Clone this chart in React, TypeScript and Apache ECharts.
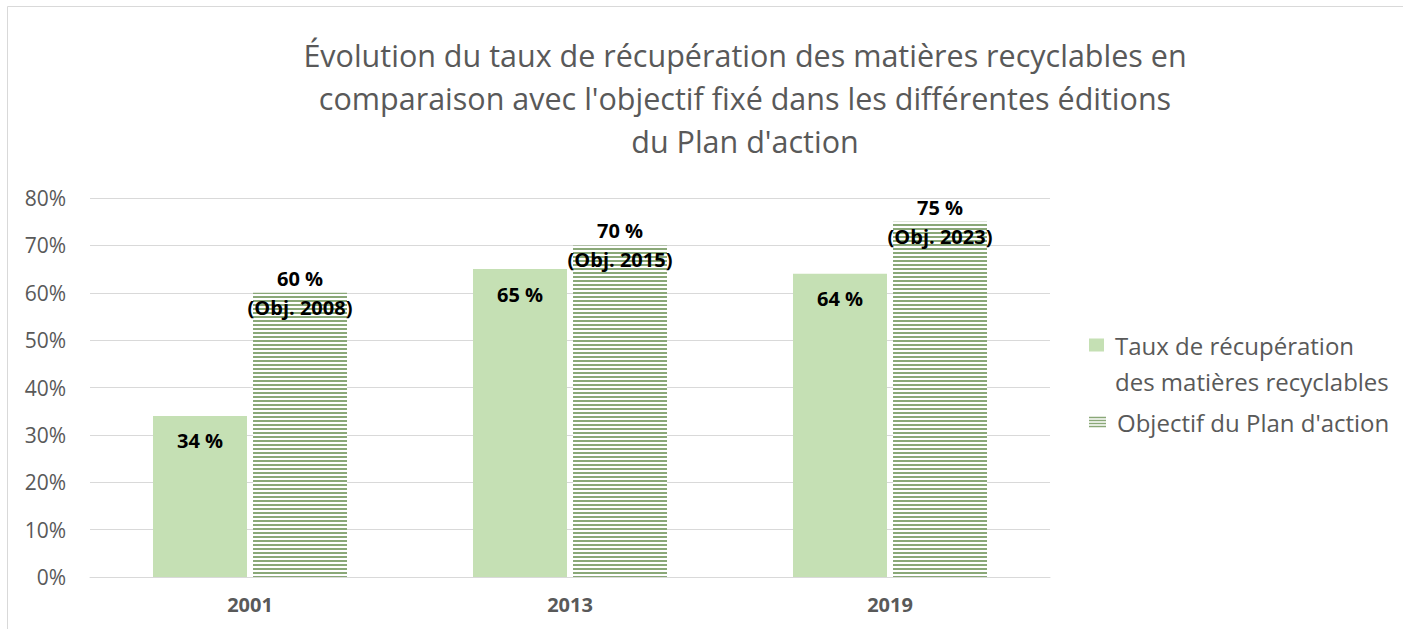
import React, { useEffect, useRef } from "react";
import * as echarts from "echarts";

const years = ["2001", "2013", "2019"];
const tauxValues = [34, 65, 64];
const objectifValues = [60, 70, 75];
const objectifYears = ["2008", "2015", "2023"];
const yTicks = [0, 10, 20, 30, 40, 50, 60, 70, 80];

const seriesNames = [
  "Taux de récupération\ndes matières recyclables",
  "Objectif du Plan d'action",
];

const FONT = "'Open Sans', 'Noto Sans', sans-serif";
const GRAY = "#595959";
const HATCH_GREEN = "#8aa878";

function makeHatch(): HTMLCanvasElement {
  const c = document.createElement("canvas");
  c.width = 4;
  c.height = 4;
  const ctx = c.getContext("2d")!;
  ctx.fillStyle = "#ffffff";
  ctx.fillRect(0, 0, 4, 4);
  ctx.fillStyle = HATCH_GREEN;
  ctx.fillRect(0, 0, 4, 2);
  return c;
}

export default function App() {
  const ref = useRef<HTMLDivElement>(null);
  useEffect(() => {
    if (!ref.current) return;
    const chart = echarts.init(ref.current, undefined, { renderer: "svg" });
    const hatch = { image: makeHatch(), repeat: "repeat" } as any;
    const legendText = {
      fontFamily: FONT,
      fontSize: 24,
      lineHeight: 36,
      color: GRAY,
      padding: [0, 0, 0, 6],
    };
    chart.setOption({
      animation: false,
      backgroundColor: "#ffffff",
      title: {
        text: "Évolution du taux de récupération des matières recyclables en\ncomparaison avec l'objectif fixé dans les différentes éditions\ndu Plan d'action",
        left: 740,
        top: 28,
        textAlign: "center",
        textStyle: {
          fontFamily: FONT,
          fontWeight: "normal",
          fontSize: 30.5,
          lineHeight: 43,
          color: GRAY,
        },
      },
      graphic: [
        {
          type: "rect",
          shape: { x: 7.5, y: 6.5, width: 1420, height: 700 },
          style: { fill: "none", stroke: "#d9d9d9", lineWidth: 1 },
          silent: true,
        },
      ],
      grid: { left: 90, right: 353, top: 198, bottom: 52, containLabel: false },
      legend: [
        {
          orient: "vertical",
          left: 1084,
          top: 322,
          itemWidth: 15,
          itemHeight: 49,
          data: [
            {
              name: seriesNames[0],
              icon: "path://M0 0H15V13H0Z M0 48.9H0.1V49H0Z",
            },
          ],
          textStyle: legendText,
        },
        {
          orient: "vertical",
          left: 1084,
          top: 399,
          itemWidth: 17,
          itemHeight: 10.5,
          data: [
            {
              name: seriesNames[1],
              icon: "path://M0 0H17V1.5H0Z M0 3H17V4.5H0Z M0 6H17V7.5H0Z M0 9H17V10.5H0Z",
              itemStyle: { color: HATCH_GREEN },
            },
          ],
          textStyle: legendText,
        },
      ],
      xAxis: {
        type: "category",
        data: years,
        axisTick: { show: false },
        axisLine: { lineStyle: { color: "#d9d9d9", width: 1 } },
        axisLabel: {
          fontFamily: FONT,
          fontWeight: "bold",
          fontSize: 20,
          color: GRAY,
          margin: 17,
        },
      },
      yAxis: {
        type: "value",
        min: 0,
        max: 80,
        interval: 10,
        axisLine: { show: false },
        axisTick: { show: false },
        splitLine: { lineStyle: { color: "#d9d9d9", width: 1 } },
        axisLabel: {
          fontFamily: FONT,
          fontSize: 21,
          color: GRAY,
          margin: 24,
          formatter: (v: number) => (yTicks.includes(v) ? `${v}%` : ""),
        },
      },
      series: [
        {
          name: seriesNames[0],
          type: "bar",
          data: tauxValues,
          barWidth: 94,
          barGap: "6.4%",
          itemStyle: { color: "#c5e0b4" },
          label: {
            show: true,
            position: "insideTop",
            distance: 15,
            formatter: "{c} %",
            fontFamily: FONT,
            fontWeight: "bold",
            fontSize: 20,
            color: "#000000",
          },
        },
        {
          name: seriesNames[1],
          type: "bar",
          data: objectifValues,
          barWidth: 94,
          itemStyle: { color: hatch },
          label: {
            show: true,
            position: ["50%", 0],
            align: "center",
            verticalAlign: "middle",
            formatter: (p: any) => `${p.value} %\n(Obj. ${objectifYears[p.dataIndex]})`,
            fontFamily: FONT,
            fontWeight: "bold",
            fontSize: 20,
            lineHeight: 29,
            color: "#000000",
          },
        },
      ],
    });
    return () => chart.dispose();
  }, []);
  return (
    <div
      ref={ref}
      style={{ position: "fixed", left: 0, top: 0, width: 1403, height: 629 }}
    />
  );
}
